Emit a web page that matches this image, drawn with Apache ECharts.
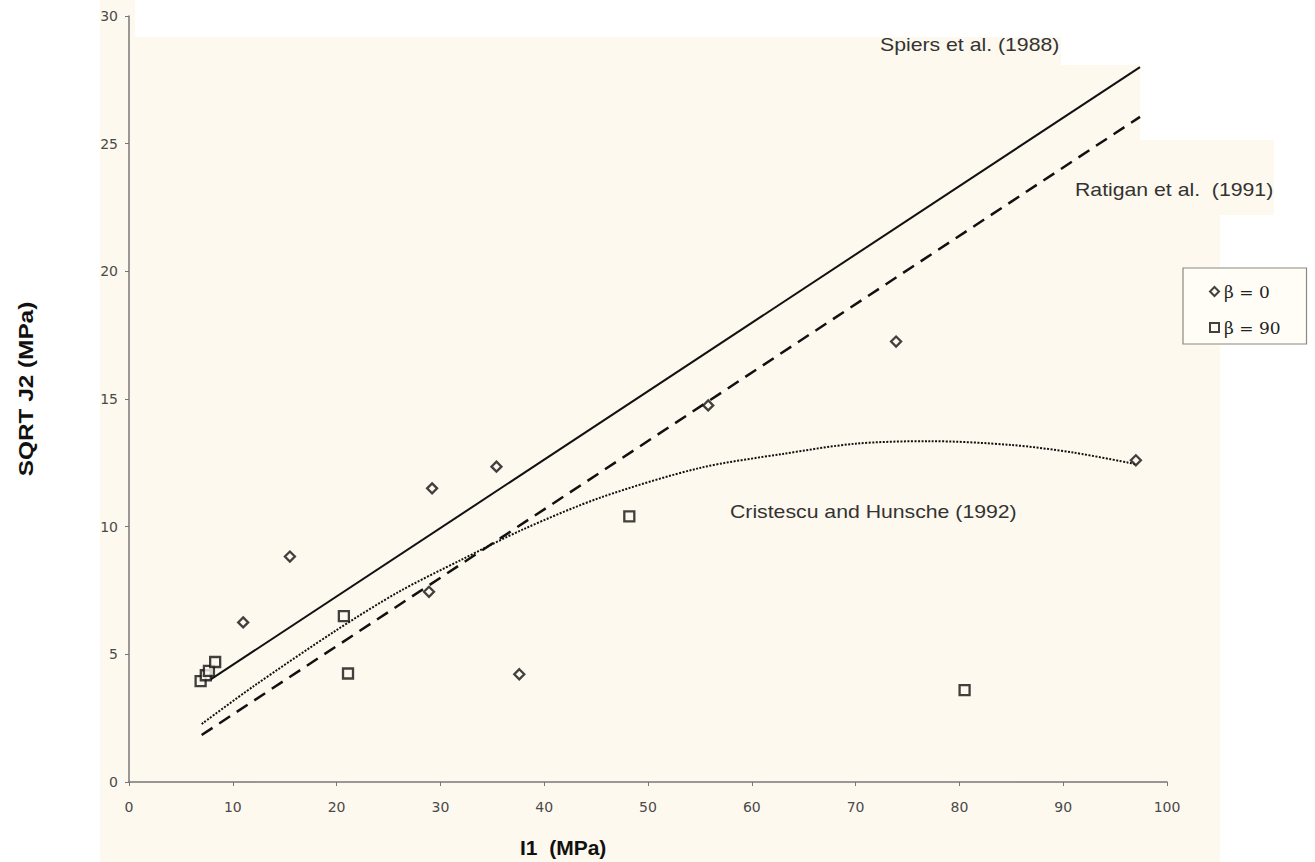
<!DOCTYPE html>
<html>
<head>
<meta charset="utf-8">
<script src="https://cdn.jsdelivr.net/npm/echarts@6/dist/echarts.min.js"></script>
<style>
html,body{margin:0;padding:0;background:#ffffff;}
#chart{width:1315px;height:862px;}
</style>
</head>
<body>
<div id="chart"></div>
<script>
// ---- data ----
const beta0I1 = [11.0, 15.5, 28.9, 29.2, 35.4, 37.6, 55.8, 73.9, 97.0];
const beta0J2 = [6.25, 8.83, 7.45, 11.5, 12.35, 4.22, 14.75, 17.25, 12.6];
const beta90I1 = [6.9, 7.4, 7.7, 8.3, 20.7, 21.1, 48.2, 80.5];
const beta90J2 = [3.95, 4.18, 4.35, 4.7, 6.5, 4.25, 10.4, 3.6];

const spiersI1 = [7.8, 97.4];
const spiersJ2 = [4.0, 28.0];
const ratiganI1 = [7.0, 97.4];
const ratiganJ2 = [1.84, 26.05];
const cristescuI1 = [7.0, 12.0, 20.0, 26.0, 32.0, 38.0, 45.5, 55.0, 63.0, 70.0, 77.0, 85.0, 91.0, 97.0];
const cristescuJ2 = [2.27, 3.75, 5.95, 7.45, 8.7, 9.9, 11.15, 12.3, 12.85, 13.25, 13.35, 13.2, 12.9, 12.45];

const xTickLabels = ['0','10','20','30','40','50','60','70','80','90','100'];
const yTickLabels = ['0','5','10','15','20','25','30'];

const seriesNames = ['β = 0', 'β = 90'];
const curveNames = ['Spiers et al. (1988)', 'Ratigan et al.  (1991)', 'Cristescu and Hunsche (1992)'];
const xTitle = 'I1  (MPa)';
const yTitle = 'SQRT J2 (MPa)';

function pairs(xs, ys){ return xs.map((x,i)=>[x, ys[i]]); }

const diamondPath = 'path://M5,0L10,5L5,10L0,5Z';
const cream = '#fef9ee';
const ink = '#111111';
const noteFont = '18px "Liberation Sans", Arial';

const chart = echarts.init(document.getElementById('chart'), null, {renderer:'svg'});
chart.setOption({
  backgroundColor: '#ffffff',
  animation: false,
  grid: {left: 129, right: 148, top: 16, bottom: 80, containLabel: false},
  xAxis: {
    type: 'value', min: 0, max: 100, interval: 10,
    axisLine: {show: true, onZero: false, lineStyle: {color: '#777', width: 1.5}},
    axisTick: {show: true, length: 4, lineStyle: {color: '#777'}},
    splitLine: {show: false},
    axisLabel: {
      margin: 18, color: '#4a4a4a', fontSize: 14, fontFamily: 'DejaVu Sans',
      formatter: v => xTickLabels[Math.round(v/10)]
    }
  },
  yAxis: {
    type: 'value', min: 0, max: 30, interval: 5,
    axisLine: {show: true, onZero: false, lineStyle: {color: '#777', width: 1.5}},
    axisTick: {show: true, length: 4, lineStyle: {color: '#777'}},
    splitLine: {show: false},
    axisLabel: {
      margin: 11, color: '#4a4a4a', fontSize: 14, fontFamily: 'DejaVu Sans',
      formatter: v => yTickLabels[Math.round(v/5)]
    }
  },
  legend: {
    data: seriesNames,
    orient: 'vertical',
    left: 1183, top: 268,
    padding: [15, 26, 8, 26],
    itemGap: 19,
    itemWidth: 9, itemHeight: 9,
    backgroundColor: '#fffdf6',
    borderColor: '#8a8a80', borderWidth: 1.2,
    textStyle: {fontFamily: 'DejaVu Serif', fontSize: 17, color: '#222'}
  },
  graphic: [
    {
      type: 'polygon', z: -10, silent: true,
      shape: {points: [[100,0],[135,0],[135,37],[1061,37],[1061,65],[1140,65],[1140,140],[1274,140],[1274,215],[1220,215],[1220,862],[100,862]]},
      style: {fill: cream}
    },
    {
      type: 'text', x: 880, y: 45, scaleX: 1.18, silent: true,
      style: {text: curveNames[0], font: noteFont, fill: '#333', textVerticalAlign: 'middle'}
    },
    {
      type: 'text', x: 1075, y: 190, scaleX: 1.18, silent: true,
      style: {text: curveNames[1], font: noteFont, fill: '#333', textVerticalAlign: 'middle'}
    },
    {
      type: 'text', x: 730, y: 512, scaleX: 1.18, silent: true,
      style: {text: curveNames[2], font: noteFont, fill: '#333', textVerticalAlign: 'middle'}
    },
    {
      type: 'text', x: 26, y: 389, rotation: Math.PI/2, scaleX: 1.16, silent: true,
      style: {text: yTitle, font: 'bold 21px "Liberation Sans", Arial', fill: '#111', textAlign: 'center', textVerticalAlign: 'middle'}
    },
    {
      type: 'text', x: 520, y: 847, silent: true,
      style: {text: xTitle, font: 'bold 21px "Liberation Sans", Arial', fill: '#111', textVerticalAlign: 'middle'}
    }
  ],
  series: [
    {
      name: curveNames[0], type: 'line', data: pairs(spiersI1, spiersJ2),
      symbol: 'none', lineStyle: {color: ink, width: 2, type: 'solid'}, z: 2
    },
    {
      name: curveNames[1], type: 'line', data: pairs(ratiganI1, ratiganJ2),
      symbol: 'none', lineStyle: {color: ink, width: 2.5, type: [13, 8]}, z: 2
    },
    {
      name: curveNames[2], type: 'line', data: pairs(cristescuI1, cristescuJ2),
      symbol: 'none', smooth: 0.3, lineStyle: {color: ink, width: 2, type: [2, 1.5]}, z: 2
    },
    {
      name: seriesNames[0], type: 'scatter', data: pairs(beta0I1, beta0J2),
      symbol: diamondPath, symbolSize: 10,
      itemStyle: {color: cream, borderColor: ink, borderWidth: 2.3}, z: 5
    },
    {
      name: seriesNames[1], type: 'scatter', data: pairs(beta90I1, beta90J2),
      symbol: 'rect', symbolSize: 10,
      itemStyle: {color: cream, borderColor: ink, borderWidth: 2.3}, z: 5
    }
  ]
});
</script>
</body>
</html>
